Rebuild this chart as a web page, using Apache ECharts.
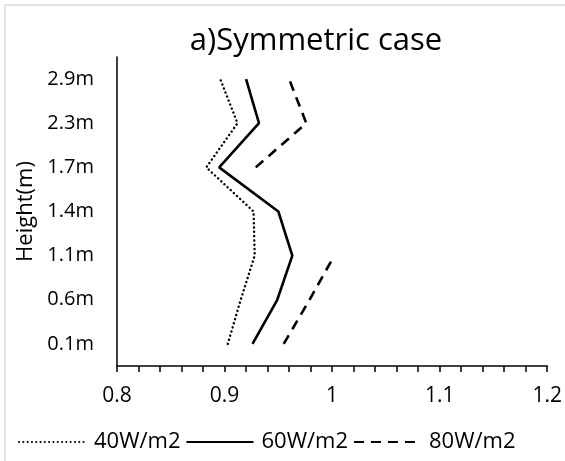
<!DOCTYPE html>
<html>
<head>
<meta charset="utf-8">
<script src="https://cdn.jsdelivr.net/npm/echarts@6/dist/echarts.min.js"></script>
<style>html,body{margin:0;padding:0;background:#fff;}#c{width:565px;height:461px;}</style>
</head>
<body>
<div id="c"></div>
<script>
var heights = ['0.1m', '0.6m', '1.1m', '1.4m', '1.7m', '2.3m', '2.9m'];
var w40 = [0.903, 0.915, 0.928, 0.927, 0.883, 0.912, 0.896];
var w60 = [0.926, 0.949, 0.963, 0.950, 0.895, 0.932, 0.920];
var w80 = [0.955, 0.979, 1.002, null, 0.929, 0.976, 0.960];
var seriesNames = ['40W/m2', '60W/m2', '80W/m2'];

var FONT = 'Open Sans';
var chart = echarts.init(document.getElementById('c'), null, {renderer: 'canvas'});
chart.setOption({
  animation: false,
  backgroundColor: '#fff',
  textStyle: {fontFamily: FONT},
  title: {
    text: 'a)Symmetric case',
    left: 311, top: 21, textAlign: 'center',
    textStyle: {fontFamily: FONT, fontSize: 31, fontWeight: 'normal', color: '#000'}
  },
  graphic: [{
    type: 'rect', shape: {x: 5, y: 5, width: 620, height: 520},
    style: {fill: 'none', stroke: '#d9d9d9', lineWidth: 1.5}, silent: true
  }],
  legend: {
    left: 13, top: 426, itemWidth: 67, itemHeight: 22, itemGap: 5,
    data: seriesNames,
    itemStyle: {opacity: 0},
    textStyle: {fontFamily: FONT, fontSize: 22, color: '#000', padding: [0, 0, 0, 3]}
  },
  grid: {left: 117, right: 16, top: 57, bottom: 95, containLabel: false},
  xAxis: {
    type: 'value', min: 0.8, max: 1.2, interval: 0.1,
    axisLine: {show: true, lineStyle: {color: '#000', width: 1.5}},
    axisTick: {show: true, length: 6, lineStyle: {color: '#000', width: 1.5}},
    minorTick: {show: true, splitNumber: 5, length: 6, lineStyle: {color: '#000', width: 1.5}},
    splitLine: {show: false},
    axisLabel: {fontFamily: FONT, fontSize: 21, color: '#000', margin: 20}
  },
  yAxis: {
    type: 'category', data: heights, boundaryGap: true,
    name: 'Height(m)', nameLocation: 'middle', nameGap: 78, nameRotate: 90,
    nameTextStyle: {fontFamily: FONT, fontSize: 22, color: '#000'},
    axisLine: {show: true, lineStyle: {color: '#000', width: 1.5}},
    axisTick: {show: false},
    splitLine: {show: false},
    axisLabel: {fontFamily: FONT, fontSize: 20, color: '#000', margin: 23}
  },
  series: [
    {name: seriesNames[0], type: 'line', data: w40, symbol: 'none', connectNulls: false,
     itemStyle: {color: '#000'}, lineStyle: {color: '#000', width: 2.4, type: [0.1, 4.2], cap: 'round'}},
    {name: seriesNames[1], type: 'line', data: w60, symbol: 'none', connectNulls: false,
     itemStyle: {color: '#000'}, lineStyle: {color: '#000', width: 2.6, type: 'solid'}},
    {name: seriesNames[2], type: 'line', data: w80, symbol: 'none', connectNulls: false,
     itemStyle: {color: '#000'}, lineStyle: {color: '#000', width: 2.6, type: [10, 7]}}
  ]
});
</script>
</body>
</html>
